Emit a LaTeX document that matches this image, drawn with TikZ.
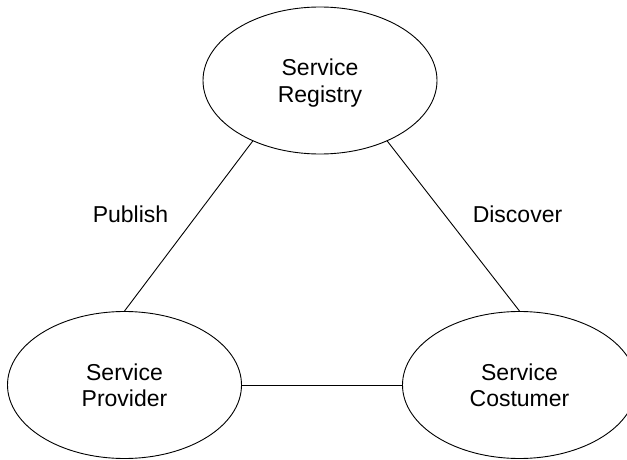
\documentclass[tikz,border=0pt]{standalone}
\usepackage{fontspec}
\setmainfont{Liberation Sans}
\usetikzlibrary{shapes.geometric}

\begin{document}
\begin{tikzpicture}[line cap=round, line join=round, x=1pt, y=-1pt,
    svc/.style={ellipse, draw=black, line width=0.9pt, inner sep=0pt,
                minimum width=234pt, minimum height=147pt, align=center,
                text depth=0pt, font=\fontsize{23}{26.5}\selectfont},
    lbl/.style={inner sep=0pt, font=\fontsize{23}{26.5}\selectfont}]
\useasboundingbox (0,0) rectangle (627,460);
\clip (0,0) rectangle (627,460);
% the three roles
\node [svc] (reg)  at (320,80.5)  {Service\\Registry};
\node [svc] (prov) at (124.5,385) {Service\\Provider};
\node [svc] (cons) at (519.5,385) {Service\\Costumer};
% links between them
\draw [line width=0.9pt] (reg.222) -- (prov.north);
\draw [line width=0.9pt] (reg.318) -- (cons.north);
\draw [line width=0.9pt] (prov.east) -- (cons.west);
\node [lbl] (pub) at (130.5,214.5) {Publish};
\node [lbl] (dis) at (517.5,214.5) {Discover};
\end{tikzpicture}
\end{document}
